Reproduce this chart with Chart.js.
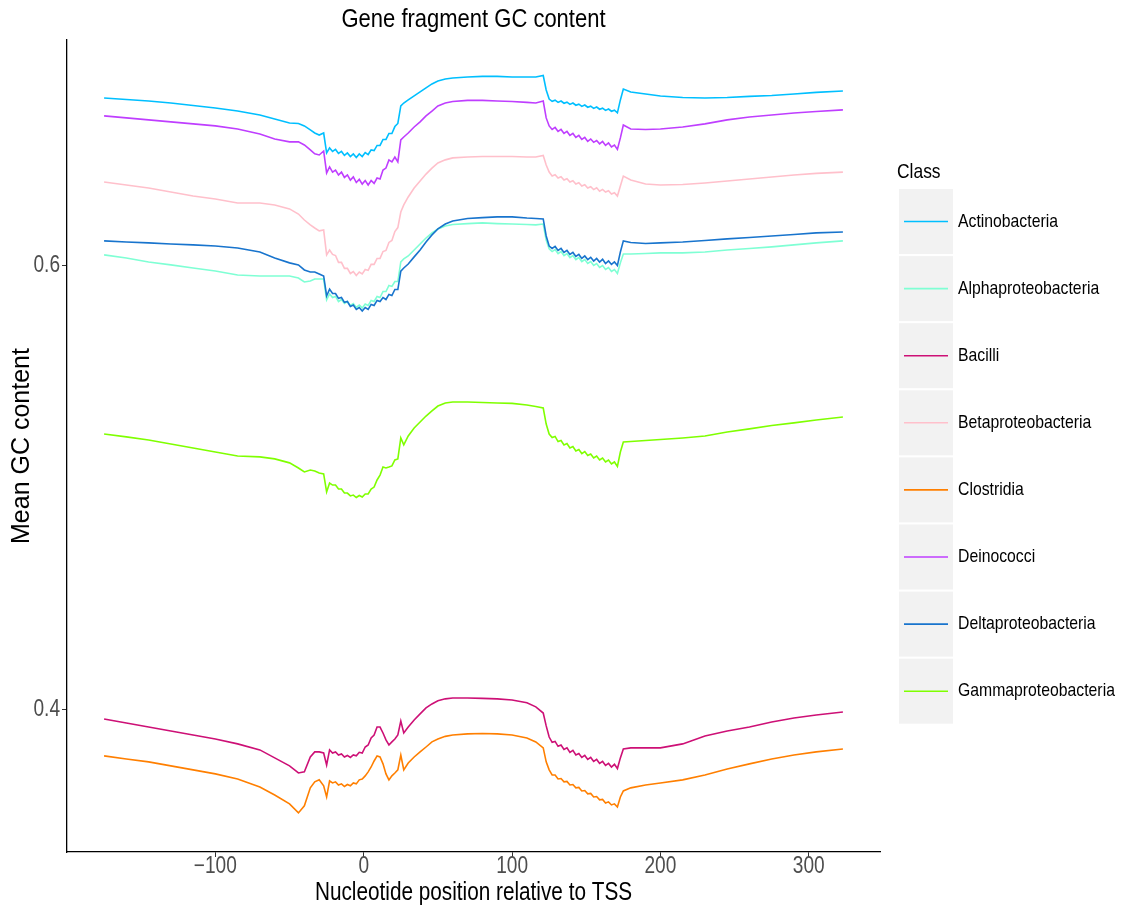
<!DOCTYPE html>
<html>
<head>
<meta charset="utf-8">
<script src="https://cdn.jsdelivr.net/npm/chart.js@4.4.1/dist/chart.umd.min.js"></script>
<style>
  html, body { margin: 0; padding: 0; background: #fff; }
  #wrap { width: 1122px; height: 909px; }
</style>
</head>
<body>
<div id="wrap"><canvas id="gc" width="1122" height="909"></canvas></div>
<script>
// nucleotide positions relative to the TSS (shared by every class)
const positions = [-175,-160,-145,-130,-115,-100,-85,-70,-60,-50,-44,-40,-36,-33,-30,-27,-25,-23,
  -21,-19,-17,-15,-13,-11,-9,-7,-5,-3,-1,1,3,5,7,9,11,13,15,17,19,21,23,
  25,27,30,34,38,42,46,50,55,60,70,80,90,100,110,116,121,123,125,
  127,129,131,133,135,137,139,141,143,145,147,149,151,153,155,157,159,161,163,165,167,169,171,
  173,175,180,190,200,215,230,245,260,275,290,305,323];

// mean GC content per class
const actinobacteria = [0.6757,0.6750,0.6743,0.6734,0.6723,0.6712,0.6698,0.6680,0.6662,0.6644,0.6642,0.6631,0.6613,0.6599,0.6590,0.6599,0.6509,0.6532,
  0.6516,0.6525,0.6507,0.6516,0.6498,0.6509,0.6493,0.6505,0.6489,0.6505,0.6493,0.6511,0.6502,0.6523,0.6520,0.6543,0.6543,0.6570,0.6570,0.6597,0.6597,0.6628,0.6642,
  0.6721,0.6734,0.6748,0.6766,0.6784,0.6802,0.6820,0.6833,0.6842,0.6847,0.6851,0.6854,0.6854,0.6851,0.6851,0.6851,0.6858,0.6793,0.6752,
  0.6742,0.6747,0.6737,0.6743,0.6733,0.6738,0.6728,0.6734,0.6724,0.6729,0.6719,0.6725,0.6715,0.6720,0.6710,0.6716,0.6706,0.6711,0.6701,0.6707,0.6697,0.6702,0.6690,
  0.6748,0.6797,0.6784,0.6775,0.6766,0.6759,0.6757,0.6759,0.6764,0.6768,0.6775,0.6782,0.6788];
const alphaproteobacteria = [0.6050,0.6036,0.6018,0.6005,0.5991,0.5977,0.5959,0.5955,0.5955,0.5955,0.5946,0.5928,0.5932,0.5941,0.5941,0.5941,0.5847,0.5874,
  0.5858,0.5863,0.5840,0.5849,0.5831,0.5840,0.5822,0.5831,0.5813,0.5824,0.5811,0.5829,0.5822,0.5845,0.5840,0.5863,0.5858,0.5885,0.5885,0.5912,0.5908,0.5930,0.5930,
  0.6018,0.6032,0.6045,0.6072,0.6099,0.6126,0.6149,0.6167,0.6180,0.6187,0.6191,0.6194,0.6191,0.6189,0.6187,0.6185,0.6189,0.6117,0.6077,
  0.6065,0.6074,0.6056,0.6065,0.6047,0.6056,0.6038,0.6047,0.6029,0.6038,0.6020,0.6029,0.6011,0.6020,0.6002,0.6011,0.5993,0.6002,0.5984,0.5993,0.5975,0.5984,0.5966,
  0.6014,0.6054,0.6054,0.6056,0.6059,0.6059,0.6063,0.6072,0.6079,0.6086,0.6095,0.6104,0.6113];
const bacilli = [0.3959,0.3941,0.3923,0.3905,0.3887,0.3869,0.3847,0.3820,0.3784,0.3748,0.3716,0.3721,0.3788,0.3811,0.3811,0.3806,0.3752,0.3820,
  0.3806,0.3811,0.3797,0.3802,0.3788,0.3795,0.3786,0.3797,0.3793,0.3809,0.3806,0.3833,0.3842,0.3874,0.3887,0.3923,0.3923,0.3896,0.3865,0.3842,0.3856,0.3869,0.3887,
  0.3950,0.3896,0.3923,0.3955,0.3982,0.4009,0.4027,0.4041,0.4050,0.4054,0.4054,0.4052,0.4050,0.4045,0.4032,0.4014,0.3986,0.3928,0.3878,
  0.3854,0.3858,0.3836,0.3842,0.3822,0.3829,0.3809,0.3818,0.3797,0.3804,0.3786,0.3795,0.3777,0.3786,0.3768,0.3777,0.3759,0.3768,0.3750,0.3759,0.3743,0.3755,0.3736,
  0.3784,0.3824,0.3829,0.3829,0.3829,0.3847,0.3883,0.3905,0.3923,0.3946,0.3964,0.3977,0.3991];
const betaproteobacteria = [0.6378,0.6365,0.6351,0.6333,0.6315,0.6302,0.6284,0.6284,0.6275,0.6257,0.6234,0.6207,0.6185,0.6171,0.6158,0.6162,0.6050,0.6072,
  0.6052,0.6047,0.6016,0.6016,0.5989,0.5989,0.5966,0.5975,0.5957,0.5973,0.5964,0.5984,0.5980,0.6007,0.6007,0.6034,0.6034,0.6065,0.6070,0.6106,0.6115,0.6155,0.6173,
  0.6243,0.6275,0.6311,0.6351,0.6383,0.6414,0.6441,0.6464,0.6478,0.6487,0.6491,0.6493,0.6493,0.6493,0.6491,0.6491,0.6498,0.6455,0.6423,
  0.6405,0.6411,0.6396,0.6402,0.6387,0.6393,0.6378,0.6384,0.6369,0.6375,0.6360,0.6366,0.6351,0.6357,0.6344,0.6352,0.6337,0.6345,0.6333,0.6339,0.6324,0.6330,0.6315,
  0.6360,0.6405,0.6387,0.6369,0.6365,0.6367,0.6374,0.6383,0.6392,0.6401,0.6410,0.6417,0.6423];
const clostridia = [0.3793,0.3779,0.3766,0.3748,0.3730,0.3712,0.3689,0.3653,0.3617,0.3577,0.3536,0.3568,0.3649,0.3676,0.3685,0.3658,0.3608,0.3680,
  0.3671,0.3676,0.3662,0.3667,0.3655,0.3664,0.3658,0.3671,0.3667,0.3685,0.3689,0.3703,0.3721,0.3743,0.3770,0.3793,0.3788,0.3757,0.3712,0.3685,0.3703,0.3716,0.3730,
  0.3797,0.3730,0.3761,0.3788,0.3811,0.3833,0.3856,0.3869,0.3881,0.3887,0.3892,0.3894,0.3892,0.3887,0.3874,0.3856,0.3829,0.3766,0.3730,
  0.3707,0.3707,0.3689,0.3691,0.3676,0.3678,0.3662,0.3664,0.3649,0.3651,0.3635,0.3637,0.3622,0.3624,0.3608,0.3610,0.3595,0.3597,0.3581,0.3586,0.3572,0.3577,0.3563,
  0.3608,0.3635,0.3649,0.3662,0.3671,0.3685,0.3707,0.3734,0.3757,0.3779,0.3797,0.3811,0.3824];
const deinococci = [0.6676,0.6667,0.6658,0.6649,0.6640,0.6631,0.6617,0.6595,0.6572,0.6559,0.6559,0.6545,0.6523,0.6505,0.6500,0.6518,0.6419,0.6446,
  0.6423,0.6432,0.6410,0.6423,0.6399,0.6410,0.6387,0.6401,0.6376,0.6390,0.6369,0.6385,0.6365,0.6385,0.6372,0.6396,0.6392,0.6432,0.6441,0.6478,0.6469,0.6491,0.6469,
  0.6568,0.6581,0.6599,0.6626,0.6649,0.6676,0.6698,0.6721,0.6734,0.6741,0.6746,0.6746,0.6743,0.6741,0.6737,0.6734,0.6743,0.6667,0.6631,
  0.6615,0.6624,0.6606,0.6615,0.6597,0.6606,0.6588,0.6597,0.6579,0.6588,0.6570,0.6579,0.6561,0.6572,0.6557,0.6565,0.6550,0.6561,0.6543,0.6554,0.6536,0.6545,0.6525,
  0.6577,0.6635,0.6617,0.6615,0.6617,0.6626,0.6640,0.6658,0.6671,0.6680,0.6689,0.6696,0.6703];
const deltaproteobacteria = [0.6113,0.6108,0.6104,0.6099,0.6095,0.6090,0.6081,0.6063,0.6036,0.6014,0.6005,0.5982,0.5973,0.5973,0.5964,0.5955,0.5865,0.5896,
  0.5876,0.5876,0.5854,0.5858,0.5836,0.5840,0.5818,0.5824,0.5804,0.5813,0.5797,0.5813,0.5804,0.5827,0.5822,0.5845,0.5840,0.5858,0.5849,0.5872,0.5867,0.5894,0.5894,
  0.5977,0.5991,0.6009,0.6041,0.6072,0.6108,0.6140,0.6167,0.6189,0.6203,0.6214,0.6218,0.6221,0.6221,0.6216,0.6214,0.6212,0.6135,0.6090,
  0.6079,0.6088,0.6070,0.6079,0.6061,0.6070,0.6052,0.6061,0.6043,0.6052,0.6034,0.6045,0.6029,0.6039,0.6022,0.6034,0.6018,0.6030,0.6011,0.6023,0.6007,0.6018,0.6002,
  0.6063,0.6113,0.6106,0.6101,0.6104,0.6108,0.6115,0.6122,0.6128,0.6135,0.6142,0.6149,0.6153];
const gammaproteobacteria = [0.5243,0.5230,0.5216,0.5198,0.5180,0.5162,0.5144,0.5140,0.5131,0.5113,0.5090,0.5072,0.5081,0.5076,0.5067,0.5063,0.4982,0.5022,
  0.5013,0.5013,0.4995,0.4995,0.4977,0.4977,0.4964,0.4968,0.4957,0.4966,0.4959,0.4973,0.4973,0.4995,0.5004,0.5036,0.5058,0.5094,0.5090,0.5094,0.5099,0.5126,0.5131,
  0.5225,0.5194,0.5234,0.5270,0.5297,0.5324,0.5347,0.5369,0.5383,0.5387,0.5387,0.5385,0.5383,0.5381,0.5374,0.5367,0.5360,0.5288,0.5243,
  0.5227,0.5232,0.5209,0.5214,0.5194,0.5200,0.5180,0.5187,0.5167,0.5173,0.5155,0.5164,0.5146,0.5153,0.5135,0.5144,0.5126,0.5135,0.5117,0.5126,0.5108,0.5117,0.5097,
  0.5162,0.5207,0.5209,0.5214,0.5218,0.5225,0.5234,0.5252,0.5266,0.5281,0.5293,0.5306,0.5320];

const classNames = ['Actinobacteria', 'Alphaproteobacteria', 'Bacilli', 'Betaproteobacteria',
  'Clostridia', 'Deinococci', 'Deltaproteobacteria', 'Gammaproteobacteria'];
const classSeries = [actinobacteria, alphaproteobacteria, bacilli, betaproteobacteria,
  clostridia, deinococci, deltaproteobacteria, gammaproteobacteria];
const classColors = ['#00BFFF', '#7FFFD4', '#CD1076', '#FFC0CB', '#FF7F00', '#BF3EFF', '#1874CD', '#7FFF00'];

const xTicks = [-100, 0, 100, 200, 300];
const yTicks = [0.4, 0.6];

// horizontal text is drawn a touch condensed
const SQUEEZE = 0.83;
const FONT = '"Liberation Sans", Arial, Helvetica, sans-serif';

function drawText(ctx, text, x, y, size, color, align, vertical) {
  ctx.save();
  ctx.translate(x, y);
  if (vertical) ctx.rotate(-Math.PI / 2);
  else ctx.scale(SQUEEZE, 1);
  ctx.font = size + 'px ' + FONT;
  ctx.fillStyle = color;
  ctx.textAlign = align;
  ctx.textBaseline = 'middle';
  ctx.fillText(text, 0, 0);
  ctx.restore();
}

function fmtTick(v) {
  const s = String(Math.abs(v));
  return v < 0 ? '\u2212' + s : s;
}

const decorations = {
  id: 'decorations',
  afterDraw(chart) {
    const ctx = chart.ctx;
    const area = chart.chartArea;
    const xs = chart.scales.x;
    const ys = chart.scales.y;
    const midX = (area.left + area.right) / 2;

    drawText(ctx, 'Gene fragment GC content', midX, 20, 26.5, '#000', 'center');

    xTicks.forEach(v => drawText(ctx, fmtTick(v), xs.getPixelForValue(v), 867, 23, '#4d4d4d', 'center'));
    yTicks.forEach(v => drawText(ctx, v.toFixed(1), 60, ys.getPixelForValue(v), 23, '#4d4d4d', 'right'));

    drawText(ctx, 'Nucleotide position relative to TSS', midX, 893, 25, '#000', 'center');
    drawText(ctx, 'Mean GC content', 22, (area.top + area.bottom) / 2, 25, '#000', 'center', true);

    // legend
    drawText(ctx, 'Class', 897, 172, 21, '#000', 'left');
    const keyTop = 189, keyStep = 67.1, keyH = 65;
    classNames.forEach((name, i) => {
      const top = keyTop + i * keyStep;
      const cy = top + keyH / 2;
      ctx.fillStyle = '#F2F2F2';
      ctx.fillRect(899, top, 54, keyH);
      ctx.strokeStyle = classColors[i];
      ctx.lineWidth = 1.6;
      ctx.beginPath();
      ctx.moveTo(904, cy);
      ctx.lineTo(948, cy);
      ctx.stroke();
      drawText(ctx, name, 958, cy, 19, '#000', 'left');
    });
  }
};

const datasets = classNames.map((name, i) => ({
  label: name,
  data: positions.map((p, j) => ({ x: p, y: classSeries[i][j] })),
  borderColor: classColors[i],
  backgroundColor: classColors[i],
  borderWidth: 1.6,
  pointRadius: 0,
  tension: 0,
  fill: false,
  order: -i
}));

new Chart(document.getElementById('gc').getContext('2d'), {
  type: 'line',
  data: { datasets },
  options: {
    responsive: false,
    animation: false,
    layout: { padding: { top: 40, right: 242, bottom: 0, left: 0 } },
    plugins: { legend: { display: false }, tooltip: { enabled: false }, title: { display: false } },
    scales: {
      x: {
        type: 'linear',
        min: -200,
        max: 348,
        afterBuildTicks: s => { s.ticks = xTicks.map(v => ({ value: v })); },
        afterFit: s => { s.height = 57; },
        ticks: { display: false },
        grid: { drawOnChartArea: false, drawTicks: true, tickLength: 5, color: '#333', lineWidth: 1 },
        border: { display: true, color: '#000', width: 1.3 }
      },
      y: {
        type: 'linear',
        min: 0.336,
        max: 0.7018,
        afterBuildTicks: s => { s.ticks = yTicks.map(v => ({ value: v })); },
        afterFit: s => { s.width = 67; },
        ticks: { display: false },
        grid: { drawOnChartArea: false, drawTicks: true, tickLength: 5, color: '#333', lineWidth: 1 },
        border: { display: true, color: '#000', width: 1.3 }
      }
    }
  },
  plugins: [decorations]
});
</script>
</body>
</html>
